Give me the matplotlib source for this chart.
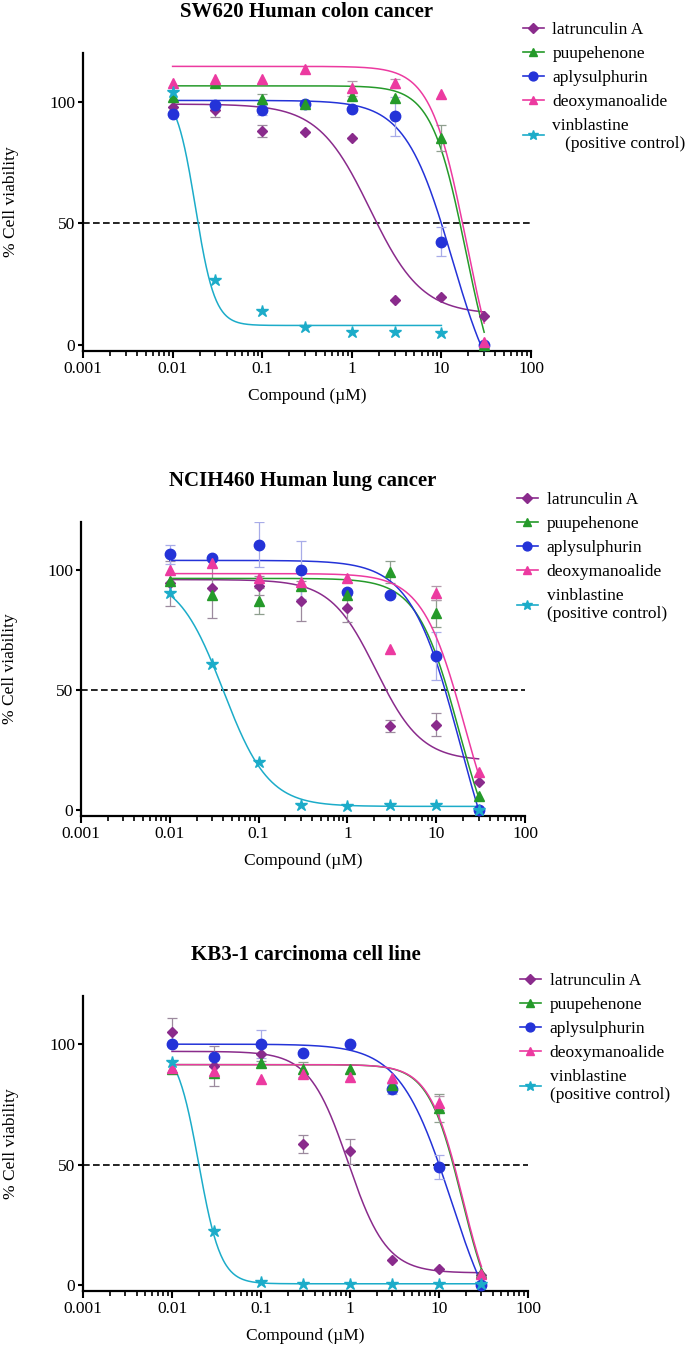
import numpy as np
import matplotlib.pyplot as plt
from matplotlib.lines import Line2D
from matplotlib.ticker import LogLocator, NullFormatter

plt.rcParams['font.family'] = ['Liberation Serif', 'DejaVu Serif']

# doses (uM) and labels
dose = [0.01, 0.03, 0.1, 0.3, 1, 3, 10, 30]
xtick_vals = [0.001, 0.01, 0.1, 1, 10, 100]
xtick_labels = ["0.001", "0.01", "0.1", "1", "10", "100"]
names = ["latrunculin A", "puupehenone", "aplysulphurin", "deoxymanoalide", "vinblastine"]
titles = ["SW620 Human colon cancer", "NCIH460 Human lung cancer", "KB3-1 carcinoma cell line"]

# SW620 means / sem
sw_lat = [98, 96.5, 88, 87.5, 85, 18.5, 19.5, 12]
sw_lat_err = [0, 3, 2.5, 0, 0, 0, 0, 0]
sw_puu = [102, 107.5, 101, 99, 102.5, 101.5, 85, 0]
sw_puu_err = [0, 0, 2, 0, 0, 0, 5.4, 0]
sw_apl = [95, 98.5, 96.5, 99, 97, 94, 42.5, 0]
sw_apl_err = [0, 0, 2, 0, 0, 8, 6, 0]
sw_deo = [107.5, 109.5, 109.5, 113.5, 105.5, 107.5, 103, 1]
sw_deo_err = [0, 0, 0, 0, 3, 2, 0, 0]
sw_vin = [104, 26.5, 14, 7.5, 5.5, 5.5, 5, None]
# fitted curve parameters (top, bottom, ec50, hill)
sw_fit = [(99, 12.5, 1.6, 1.5), (106.5, -30, 18.8, 2.26), (100.5, -30, 13.2, 1.65),
          (114.5, -30, 19, 2.18), (105, 8, 0.018, 4)]
sw_curve_end = [30, 30, 30, 30, 10]

# NCIH460
nc_lat = [94.5, 92.5, 93.5, 87, 84, 35, 35.5, 11.5]
nc_lat_err = [9.4, 12.4, 4, 8.3, 5.5, 2.5, 4.8, 0]
nc_puu = [95.5, 89.5, 87, 93.5, 89.5, 99, 82, 6]
nc_puu_err = [0, 0, 5.3, 0, 0, 4.6, 5.6, 0]
nc_apl = [106.5, 105, 110.5, 100, 91, 89.5, 64, 0]
nc_apl_err = [4, 0, 9.3, 12, 0, 0, 10, 0]
nc_deo = [100, 103, 96.5, 95, 96.5, 67, 90.5, 16]
nc_deo_err = [0, 0, 0, 0, 0, 0, 3, 0]
nc_vin = [90.5, 61, 20, 2, 1.5, 2, 2, 0]
nc_fit = [(96, 20.5, 2.1, 1.7), (96.5, -30, 18, 1.85), (104, -50, 18.75, 1.55),
          (98.5, -30, 21.2, 1.8), (98, 1.5, 0.04, 1.7)]
nc_curve_end = [30, 30, 30, 30, 30]

# KB3-1
kb_lat = [105, 91, 96, 58.5, 55.5, 10.5, 6.5, 4]
kb_lat_err = [5.8, 8.2, 3, 3.6, 5.1, 0, 0, 0]
kb_puu = [89.5, 88, 92, 89.5, 89.5, 83, 73.5, 5]
kb_puu_err = [0, 0, 0, 3, 0, 0, 5.7, 0]
kb_apl = [100, 94.5, 100, 96.5, 100, 81.5, 49, 0]
kb_apl_err = [0, 0, 5.8, 0, 0, 2, 4.8, 0]
kb_deo = [90, 89, 85.5, 87.5, 86.5, 86, 75.5, 4.5]
kb_deo_err = [0, 0, 0, 0, 0, 0, 3, 0]
kb_vin = [92.5, 22.5, 1.2, 0.5, 0.5, 0.5, 0.5, 0.5]
kb_fit = [(97, 5, 0.95, 2), (91.5, -20, 18.1, 2.3), (100, -30, 13.7, 1.5),
          (91.5, -20, 18.5, 2.3), (100, 0.5, 0.02, 3.5)]
kb_curve_end = [30, 30, 30, 30, 30]

colors = ['#8a2b8c', '#259a2a', '#2433d8', '#ec3aa0', '#1cacc9']
ecolors = ['#9c8a9e', '#8f9f8f', '#a8ace8', '#b39aab', '#9ad0da']
markers = ['D', '^', 'o', '^', '*']
msizes = [5.5, 7.5, 7.5, 7.5, 9]
zorders = [3, 4, 3, 4, 5]


def logistic(x, top, bottom, ec50, hill):
    return bottom + (top - bottom) / (1 + (x / ec50) ** hill)


panels = [
    ([sw_lat, sw_puu, sw_apl, sw_deo, sw_vin],
     [sw_lat_err, sw_puu_err, sw_apl_err, sw_deo_err, None], sw_fit, sw_curve_end),
    ([nc_lat, nc_puu, nc_apl, nc_deo, nc_vin],
     [nc_lat_err, nc_puu_err, nc_apl_err, nc_deo_err, None], nc_fit, nc_curve_end),
    ([kb_lat, kb_puu, kb_apl, kb_deo, kb_vin],
     [kb_lat_err, kb_puu_err, kb_apl_err, kb_deo_err, None], kb_fit, kb_curve_end),
]

# axes boxes in pixels: left, right, top, bottom
W, H = 691, 1346
boxes = [(83, 531, 53, 351), (81, 525, 522, 816), (83, 528, 996, 1291)]
legend_y = [1.104, 1.102, 1.078]
ctrl_labels = ["vinblastine\n   (positive control)", "vinblastine\n(positive control)",
               "vinblastine\n(positive control)"]

fig = plt.figure(figsize=(W / 100, H / 100), dpi=100)

for p, (means, errs, fits, ends) in enumerate(panels):
    l, r, t, b = boxes[p]
    ax = fig.add_axes([l / W, 1 - b / H, (r - l) / W, (b - t) / H])
    ax.set_xscale('log')

    ax.axhline(50, color='black', lw=1.2, ls=(0, (4, 2)), zorder=1)

    for i in range(5):
        y = np.array([np.nan if v is None else v for v in means[i]], dtype=float)
        x = np.array(dose)
        f = fits[i]
        xc = np.logspace(np.log10(dose[0]), np.log10(ends[i]), 400)
        ax.plot(xc, logistic(xc, *f), color=colors[i], lw=1.1, zorder=2)
        if errs[i] is not None:
            e = np.array(errs[i], dtype=float)
            m = e > 0
            ax.errorbar(x[m], y[m], yerr=e[m], fmt='none', ecolor=ecolors[i],
                        elinewidth=0.9, capsize=3.5, capthick=0.9, zorder=2)
        ax.plot(x, y, ls='none', marker=markers[i], ms=msizes[i], color=colors[i],
                mec=colors[i], zorder=zorders[i], clip_on=False)

    ax.set_xlim(0.001, 100)
    ax.set_ylim(-2.5, 120)
    ax.set_xticks(xtick_vals)
    ax.set_xticklabels(xtick_labels)
    ax.xaxis.set_minor_locator(LogLocator(base=10, subs=np.arange(2, 10), numticks=20))
    ax.xaxis.set_minor_formatter(NullFormatter())
    ax.set_yticks([0, 50, 100])
    ax.tick_params(which='major', width=1.5, length=5, labelsize=12.5, pad=2)
    ax.tick_params(axis='y', length=3.5)
    ax.tick_params(which='minor', width=1.2, length=3.5)
    for s in ['top', 'right']:
        ax.spines[s].set_visible(False)
    for s in ['left', 'bottom']:
        ax.spines[s].set_linewidth(1.6)

    ax.set_xlabel("Compound (\u00b5M)", fontsize=12.5, labelpad=8)
    ax.set_ylabel("% Cell viability", fontsize=12.5)
    ax.yaxis.set_label_coords(-0.143, 0.5)
    ax.set_title(titles[p], fontsize=15, fontweight='bold', pad=26)

    handles = [Line2D([0], [0], color=colors[i], marker=markers[i], ms=msizes[i] * 0.85,
                      lw=1.2) for i in range(5)]
    labels = names[:4] + [ctrl_labels[p]]
    ax.legend(handles, labels, loc='upper left', bbox_to_anchor=(0.982, legend_y[p]),
              frameon=False, fontsize=12.5, borderpad=0, borderaxespad=0,
              handlelength=1.2, handletextpad=0.5, labelspacing=0.45)

plt.savefig("out.png", dpi=100)
